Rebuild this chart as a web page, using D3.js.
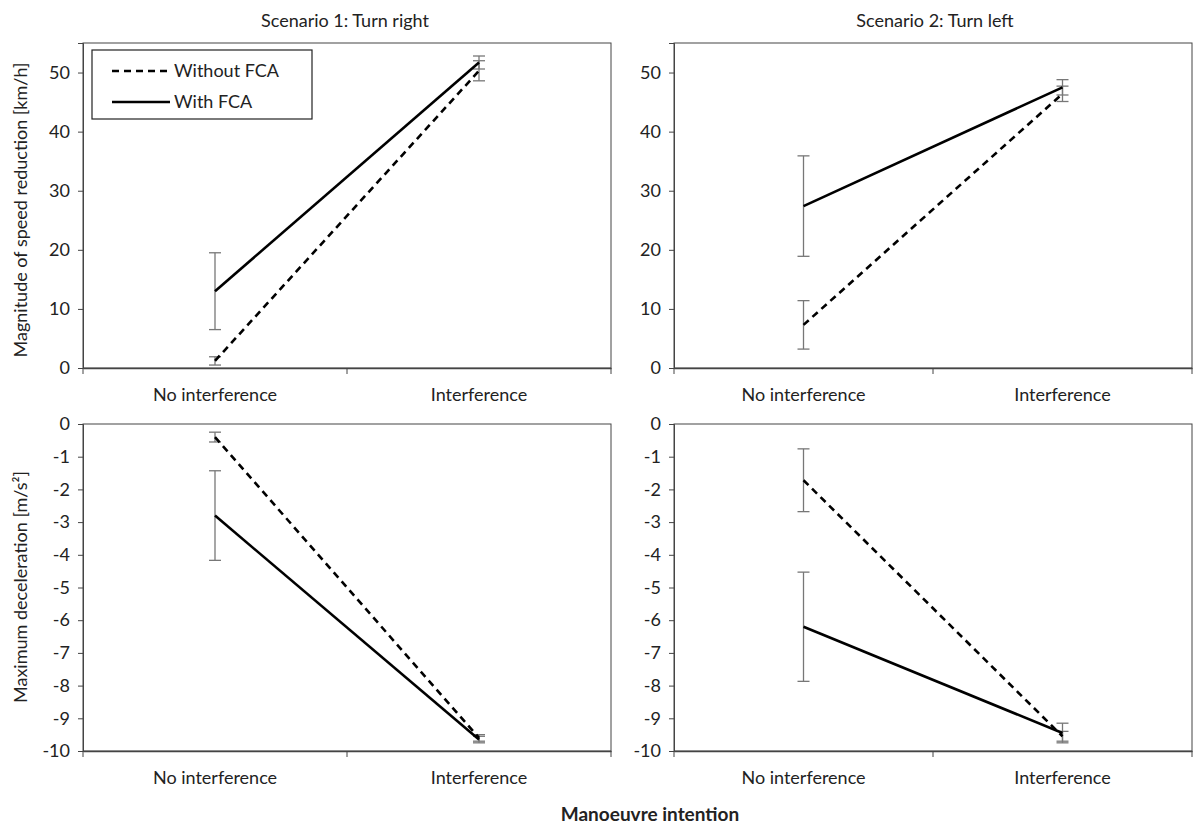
<!DOCTYPE html>
<html>
<head>
<meta charset="utf-8">
<script src="https://cdn.jsdelivr.net/npm/d3@7"></script>
<style>
  body { margin: 0; background: #fff; }
  text { font-family: Lato, "Open Sans", sans-serif; fill: #222; }
</style>
</head>
<body>
<script>
var width = 1196
var height = 827

// data
var categories = ["No interference", "Interference"]
var seriesNames = ["Without FCA", "With FCA"]
var speedTicks = [0, 10, 20, 30, 40, 50]
var decelTicks = [0, -1, -2, -3, -4, -5, -6, -7, -8, -9, -10]

var speedRightWithout = [1.2, 50.3]
var speedRightWithoutErr = [0.7, 1.7]
var speedRightWith = [13.0, 51.7]
var speedRightWithErr = [6.5, 1.1]

var speedLeftWithout = [7.3, 46.4]
var speedLeftWithoutErr = [4.1, 1.3]
var speedLeftWith = [27.4, 47.5]
var speedLeftWithErr = [8.5, 1.3]

var decelRightWithout = [-0.4, -9.6]
var decelRightWithoutErr = [0.15, 0.1]
var decelRightWith = [-2.8, -9.65]
var decelRightWithErr = [1.37, 0.1]

var decelLeftWithout = [-1.72, -9.55]
var decelLeftWithoutErr = [0.96, 0.15]
var decelLeftWith = [-6.2, -9.45]
var decelLeftWithErr = [1.67, 0.3]

var svg = d3.select("body")
    .append("svg")
        .attr("width", width)
        .attr("height", height)

var cols = [[83, 611], [674, 1192]]
var rows = [{top: 43, bottom: 368, domain: [0, 55], ticks: speedTicks},
            {top: 424, bottom: 751, domain: [-10, 0], ticks: decelTicks}]

function panel(col, row, without, withoutErr, withF, withErr, showLegend) {
    var x = d3.scaleBand().domain(categories).range(cols[col])
    var y = d3.scaleLinear().domain(rows[row].domain).range([rows[row].bottom, rows[row].top])
    var g = svg.append("g")

    // plot border
    g.append("rect")
        .attr("x", cols[col][0]).attr("y", rows[row].top)
        .attr("width", cols[col][1] - cols[col][0])
        .attr("height", rows[row].bottom - rows[row].top)
        .attr("fill", "none").attr("stroke", "#444").attr("stroke-width", 1)

    // y axis
    var ya = g.append("g")
        .attr("transform", "translate(" + cols[col][0] + ",0)")
        .call(d3.axisLeft(y).tickValues(rows[row].ticks).tickSize(5).tickPadding(8).tickFormat(d3.format("d")))
    ya.select(".domain").attr("stroke", "#444")
    ya.selectAll(".tick line").attr("stroke", "#444")
    ya.selectAll("text").style("font-size", "18px").attr("fill", "#222").text(function(d) { return d < 0 ? "-" + Math.abs(d) : d })

    // x axis with ticks on category boundaries
    var xa = g.append("g")
        .attr("transform", "translate(0," + rows[row].bottom + ")")
        .call(d3.axisBottom(x).tickSize(0).tickPadding(20))
    xa.select(".domain").attr("stroke", "#444").attr("stroke-width", 1.5)
    xa.selectAll("text").style("font-size", "18px").attr("fill", "#222")
    var bounds = [x.range()[0], x(categories[1]), x.range()[1]]
    g.selectAll(".bt").data(bounds).enter().append("line")
        .attr("x1", function(d) { return d }).attr("x2", function(d) { return d })
        .attr("y1", rows[row].bottom).attr("y2", rows[row].bottom + 6)
        .attr("stroke", "#444")

    var cx = function(i) { return x(categories[i]) + x.bandwidth() / 2 }
    var sets = [{v: without, e: withoutErr, dash: "7,5"}, {v: withF, e: withErr, dash: null}]

    // error bars
    sets.forEach(function(s) {
        s.v.forEach(function(v, i) {
            var lo = y(v - s.e[i]), hi = y(v + s.e[i])
            g.append("line").attr("x1", cx(i)).attr("x2", cx(i)).attr("y1", lo).attr("y2", hi)
                .attr("stroke", "#777").attr("stroke-width", 1.3)
            ;[lo, hi].forEach(function(yy) {
                g.append("line").attr("x1", cx(i) - 6).attr("x2", cx(i) + 6).attr("y1", yy).attr("y2", yy)
                    .attr("stroke", "#777").attr("stroke-width", 1.3)
            })
        })
    })

    // lines
    var line = d3.line().x(function(d, i) { return cx(i) }).y(function(d) { return y(d) })
    sets.forEach(function(s) {
        g.append("path").datum(s.v).attr("d", line)
            .attr("fill", "none").attr("stroke", "#000").attr("stroke-width", 2.6)
            .attr("stroke-dasharray", s.dash)
    })

    if (showLegend) {
        var lx = cols[col][0] + 9, ly = rows[row].top + 7
        g.append("rect").attr("x", lx).attr("y", ly).attr("width", 220).attr("height", 69)
            .attr("fill", "#fff").attr("stroke", "#222").attr("stroke-width", 1.2)
        seriesNames.forEach(function(name, i) {
            var yy = ly + 21 + i * 31
            g.append("line").attr("x1", lx + 20).attr("x2", lx + 78).attr("y1", yy).attr("y2", yy)
                .attr("stroke", "#000").attr("stroke-width", 2.6)
                .attr("stroke-dasharray", i === 0 ? "7,5" : null)
            g.append("text").attr("x", lx + 82).attr("y", yy).attr("dy", "0.35em")
                .style("font-size", "18px").text(name)
        })
    }
}

panel(0, 0, speedRightWithout, speedRightWithoutErr, speedRightWith, speedRightWithErr, true)
panel(1, 0, speedLeftWithout, speedLeftWithoutErr, speedLeftWith, speedLeftWithErr, false)
panel(0, 1, decelRightWithout, decelRightWithoutErr, decelRightWith, decelRightWithErr, false)
panel(1, 1, decelLeftWithout, decelLeftWithoutErr, decelLeftWith, decelLeftWithErr, false)

// titles
svg.append("text").attr("x", 345).attr("y", 27).attr("text-anchor", "middle")
    .style("font-size", "18px").text("Scenario 1: Turn right")
svg.append("text").attr("x", 935).attr("y", 27).attr("text-anchor", "middle")
    .style("font-size", "18px").text("Scenario 2: Turn left")

svg.append("text").attr("transform", "translate(27,210) rotate(-90)").attr("text-anchor", "middle")
    .style("font-size", "18px").text("Magnitude of speed reduction [km/h]")
svg.append("text").attr("transform", "translate(27,587) rotate(-90)").attr("text-anchor", "middle")
    .style("font-size", "18px").text("Maximum deceleration [m/s²]")

svg.append("text").attr("x", 650).attr("y", 821).attr("text-anchor", "middle")
    .style("font-size", "19px").style("font-weight", "bold").text("Manoeuvre intention")
</script>
</body>
</html>
